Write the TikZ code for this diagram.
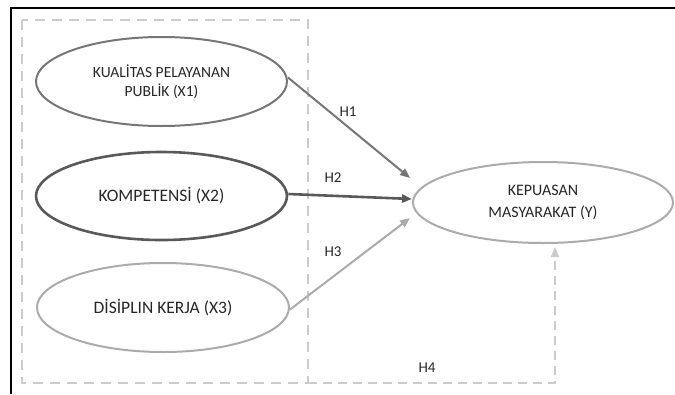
\documentclass[tikz,border=0pt]{standalone}
\usepackage{fontspec}
\setmainfont{Carlito}
\usetikzlibrary{shapes.geometric,arrows.meta}
\definecolor{txt}{HTML}{262626}
\definecolor{gA}{HTML}{767676}
\definecolor{gB}{HTML}{595959}
\definecolor{gC}{HTML}{ABABAB}
\definecolor{gD}{HTML}{CBCBCB}
\tikzset{
  latent/.style={ellipse, draw, inner sep=0pt, align=center, text=txt},
  tip/.style={-{Triangle[length=10pt,width=8pt]}},
  hlab/.style={text=txt, font=\fontsize{15pt}{17pt}\selectfont},
}
\begin{document}
\begin{tikzpicture}[x=1pt,y=-1pt]
\useasboundingbox (0,0) rectangle (675,394);
% outer frame (left and top only)
\draw[black, line width=2pt] (11,394) -- (11,8) -- (675,8);
% dashed group box
\draw[gD, line width=2pt, dash pattern=on 10pt off 7pt] (22,20) rectangle (308,383);
\coordinate (dr) at (308,383);

\node[latent, draw=gA, line width=2pt, minimum width=251pt, minimum height=89pt,
  font=\fontsize{15.5pt}{19pt}\selectfont] (x1) at (161.5,81.5) {KUALİTAS PELAYANAN\\PUBLİK (X1)};
\node[latent, draw=gB, line width=2.6pt, minimum width=251pt, minimum height=88pt,
  font=\fontsize{17.5pt}{20pt}\selectfont] (x2) at (161.5,196) {KOMPETENSİ (X2)};
\node[latent, draw=gC, line width=2pt, minimum width=252pt, minimum height=89pt,
  font=\fontsize{17.5pt}{20pt}\selectfont] (x3) at (163,307.5) {DİSİPLIN KERJA (X3)};
\node[latent, draw=gC, line width=2pt, minimum width=260pt, minimum height=81pt,
  font=\fontsize{16pt}{22pt}\selectfont] (y) at (543,202.5) {KEPUASAN\\MASYARAKAT (Y)};

\coordinate (t1) at (410,178);
\coordinate (t2) at (412,199);
\coordinate (t3) at (410,218);
\coordinate (t4) at (555,247);

\draw[tip, gA, line width=2pt] ([yshift=4pt]x1.east) -- (t1);
\draw[tip, gB, line width=2.6pt] ([yshift=2pt]x2.east) -- (t2);
\draw[tip, gC, line width=2pt] ([yshift=-2pt]x3.east) -- (t3);
\draw[tip, gD, line width=2pt, dash pattern=on 9pt off 6pt] (dr) -| (t4);

\node[hlab] (h1) at (348,112) {H1};
\node[hlab] (h2) at (333,178) {H2};
\node[hlab] (h3) at (333,252) {H3};
\node[hlab] (h4) at (427,368) {H4};
\end{tikzpicture}
\end{document}
